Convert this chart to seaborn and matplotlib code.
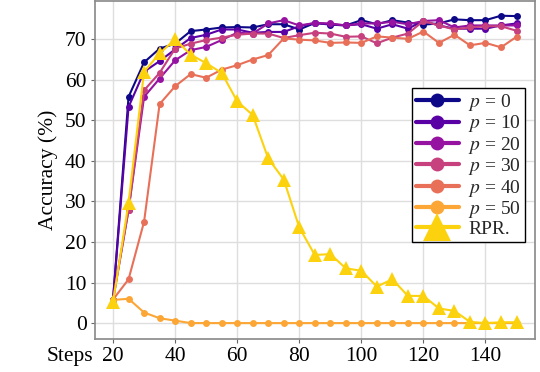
import numpy as np
import pandas as pd
import matplotlib
matplotlib.use('Agg')
import matplotlib.pyplot as plt
import seaborn as sns

# ---- data ----
steps = list(range(20, 155, 5))

acc_p0 = [5.8, 55.8, 64.3, 67.7, 68.9, 72.0, 72.4, 72.9, 73.0, 72.9, 73.7, 73.7, 72.4, 74.0,
          73.6, 73.4, 74.7, 73.7, 74.7, 74.1, 73.6, 73.9, 74.9, 74.7, 74.7, 75.8, 75.7]
acc_p10 = [5.8, 53.3, 62.0, 64.6, 67.5, 70.3, 71.1, 72.4, 72.4, 71.6, 71.8, 71.8, 73.2, 74.0,
           73.7, 73.4, 73.7, 72.6, 73.7, 72.6, 74.5, 73.4, 72.6, 72.6, 72.6, 73.4, 73.9]
acc_p20 = [5.8, 27.9, 55.8, 60.3, 64.8, 67.3, 68.1, 69.8, 71.6, 71.4, 73.9, 74.7, 73.4, 74.0,
           73.9, 73.4, 73.9, 73.9, 74.3, 73.7, 74.5, 74.7, 72.9, 73.4, 73.4, 73.4, 73.4]
acc_p30 = [5.8, 28.0, 57.4, 61.7, 67.7, 68.9, 69.8, 70.4, 71.1, 71.4, 71.4, 70.3, 71.0, 71.6,
           71.4, 70.6, 70.7, 69.0, 70.4, 71.4, 74.5, 73.4, 72.4, 72.9, 73.2, 73.2, 72.1]
acc_p40 = [5.8, 10.8, 25.0, 54.0, 58.4, 61.4, 60.5, 62.5, 63.6, 65.0, 66.1, 70.2, 69.9, 69.7,
           69.1, 69.2, 69.1, 70.7, 70.4, 70.1, 71.9, 69.1, 71.1, 68.5, 69.1, 68.0, 70.6]
acc_p50 = [5.7, 6.0, 2.6, 1.2, 0.6, 0, 0, 0, 0, 0, 0, 0, 0, 0,
           0, 0, 0, 0, 0, 0, 0, 0, 0, 0, 0, 0, 0]
acc_rpr = [5.2, 29.7, 62.0, 66.5, 70.0, 66.2, 64.1, 61.7, 54.7, 51.3, 40.6, 35.4, 23.6, 16.8,
           17.0, 13.5, 12.9, 9.0, 10.8, 6.7, 6.7, 3.6, 3.0, 0.3, 0, 0.2, 0.2]

p_labels = ['$p$ = 0', '$p$ = 10', '$p$ = 20', '$p$ = 30', '$p$ = 40', '$p$ = 50']
p_series = [acc_p0, acc_p10, acc_p20, acc_p30, acc_p40, acc_p50]

# ---- style ----
sns.set_theme(style='whitegrid', rc={
    'axes.edgecolor': '0.55',
    'grid.color': '0.87',
    'xtick.bottom': True,
    'ytick.left': True,
    'xtick.color': '0.4',
    'ytick.color': '0.4',
})
plt.rcParams['font.family'] = ['Liberation Serif', 'DejaVu Serif']
plt.rcParams['mathtext.fontset'] = 'stix'

colors = list(plt.cm.plasma(np.linspace(0, 0.8, 6)))
rpr_color = '#fcd20f'

fig = plt.figure(figsize=(5.4, 3.72), dpi=100)
ax = fig.add_axes([0.176, 0.089, 0.815, 0.908])

for lab, vals, c in zip(p_labels, p_series, colors):
    df = pd.DataFrame({'step': steps, 'acc': vals})
    sns.lineplot(data=df, x='step', y='acc', ax=ax, color=c, marker='o',
                 markersize=5, markeredgewidth=0, linewidth=1.5, label=lab)

df_rpr = pd.DataFrame({'step': steps, 'acc': acc_rpr})
sns.lineplot(data=df_rpr, x='step', y='acc', ax=ax, color=rpr_color, marker='^',
             markersize=10, markeredgewidth=0, linewidth=1.5, label='RPR.')

ax.set_xlim(14.2, 156)
ax.set_ylim(-3.9, 79.4)
ax.set_xticks([20, 40, 60, 80, 100, 120, 140])
ax.set_yticks(range(0, 80, 10))
ax.tick_params(labelsize=15.5, labelcolor='black', length=3, width=0.8, pad=3)

ax.set_ylabel('Accuracy (%)', fontsize=15.5, color='black', labelpad=5)
ax.set_xlabel('Steps', fontsize=15.5, color='black', va='center')
ax.xaxis.set_label_coords(-0.057, -0.053)

leg = ax.legend(loc='center right', bbox_to_anchor=(0.977, 0.515), fontsize=14,
                frameon=True, fancybox=False, framealpha=1, edgecolor='black',
                handlelength=2.2, handletextpad=0.5, labelspacing=0.02, borderpad=0.2,
                borderaxespad=0)
leg.get_frame().set_linewidth(1.0)
for h in leg.legend_handles:
    h.set_linewidth(3)
    if h.get_marker() == '^':
        h.set_markersize(20)
    else:
        h.set_markersize(10)

fig.savefig('out.png', dpi=100)
